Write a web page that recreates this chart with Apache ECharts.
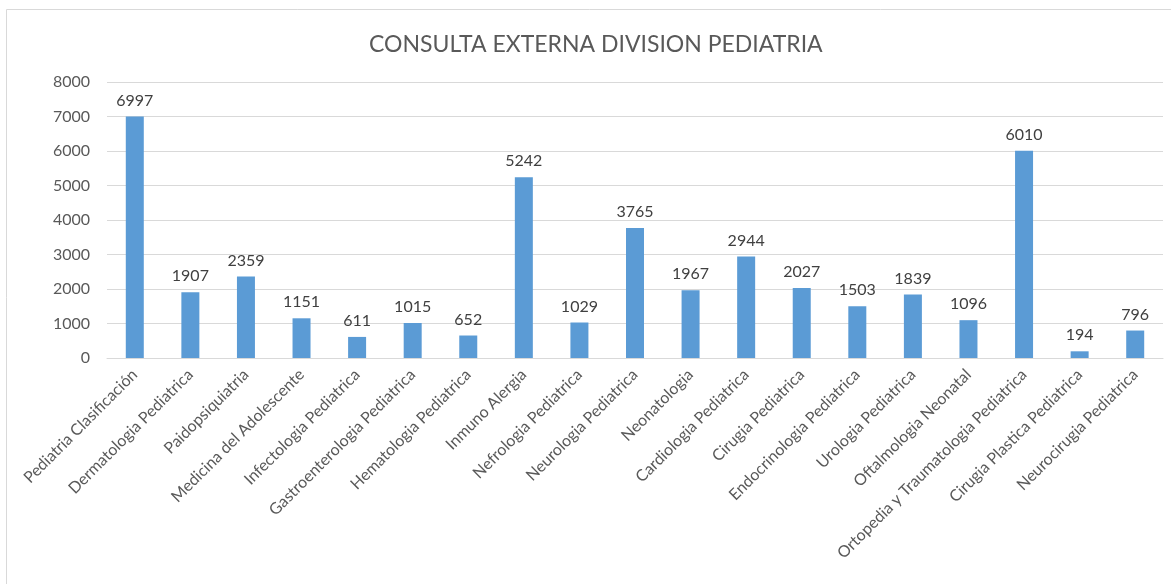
<!DOCTYPE html>
<html><head><meta charset="utf-8">
<script src="https://cdn.jsdelivr.net/npm/echarts@6/dist/echarts.min.js"></script>
<style>html,body{margin:0;padding:0;background:#fff}#c{width:1171px;height:584px}</style>
</head><body><div id="c"></div>
<script>
const titleText = "CONSULTA EXTERNA DIVISION PEDIATRIA";
const categories = ["Pediatria Clasificación","Dermatologia Pediatrica","Paidopsiquiatria","Medicina del Adolescente","Infectologia Pediatrica","Gastroenterologia Pediatrica","Hematologia Pediatrica","Inmuno Alergia","Nefrologia Pediatrica","Neurologia Pediatrica","Neonatologia","Cardiologia Pediatrica","Cirugia Pediatrica","Endocrinologia Pediatrica","Urologia Pediatrica","Oftalmologia Neonatal","Ortopedia y Traumatologia Pediatrica","Cirugia Plastica Pediatrica","Neurocirugia Pediatrica"];
const values = [6997,1907,2359,1151,611,1015,652,5242,1029,3765,1967,2944,2027,1503,1839,1096,6010,194,796];
const yMin = 0, yMax = 8000, yStep = 1000;

const font = "Lato, 'Liberation Sans', sans-serif";
const chart = echarts.init(document.getElementById('c'));
chart.setOption({
  animation: false,
  textStyle: {fontFamily: font},
  title: {text: titleText, left: 364, top: 28,
    textStyle: {fontFamily: font, fontSize: 23, fontWeight: 'normal', color: '#595959'}},
  graphic: [{type: 'rect', shape: {x: 6.5, y: 9.5, width: 1180, height: 600},
    style: {fill: 'none', stroke: '#d9d9d9', lineWidth: 1}, silent: true}],
  grid: {left: 107, right: 8, top: 82, bottom: 226, containLabel: false},
  xAxis: {type: 'category', data: categories,
    axisLine: {lineStyle: {color: '#d9d9d9', width: 1}},
    axisTick: {show: false},
    axisLabel: {rotate: 45, interval: 0, color: '#595959', fontSize: 16, margin: 14, fontFamily: font}},
  yAxis: {type: 'value', min: yMin, max: yMax, interval: yStep,
    axisLine: {show: false}, axisTick: {show: false},
    splitLine: {lineStyle: {color: '#d9d9d9', width: 1}},
    axisLabel: {color: '#595959', fontSize: 16, margin: 17, fontFamily: font,
      formatter: function (v) { return String(v); }}},
  series: [{type: 'bar', data: values, barWidth: 18,
    itemStyle: {color: '#5B9BD5'},
    label: {show: true, position: 'top', distance: 8, color: '#404040', fontSize: 16, fontFamily: font}}]
});
</script></body></html>
